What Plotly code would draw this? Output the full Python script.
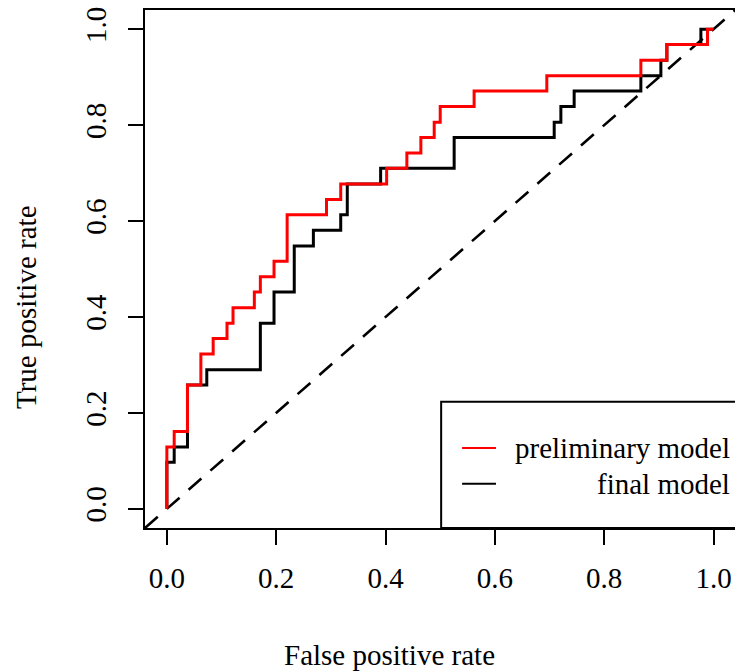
import plotly.graph_objects as go

# ROC curve vertices: run-end false positive rate at each true positive rate level
prelim_fpr = [0.0, 0.0134, 0.0377, 0.0622, 0.0847, 0.110, 0.121, 0.160, 0.171, 0.196,
              0.220, 0.292, 0.318, 0.402, 0.439, 0.4646, 0.489, 0.500, 0.562, 0.695,
              0.867, 0.9146, 0.9889, 1.0]
prelim_tpr = [0.0, 0.129, 0.161, 0.258, 0.323, 0.355, 0.387, 0.419, 0.452, 0.484,
              0.516, 0.613, 0.645, 0.677, 0.710, 0.742, 0.774, 0.806, 0.839, 0.871,
              0.903, 0.935, 0.968, 1.0]

final_fpr = [0.0, 0.0134, 0.0377, 0.073, 0.171, 0.196, 0.233, 0.268, 0.318, 0.330,
             0.391, 0.5255, 0.7085, 0.7207, 0.745, 0.867, 0.9036, 0.9146, 0.9768, 1.0]
final_tpr = [0.0, 0.097, 0.129, 0.258, 0.290, 0.387, 0.452, 0.548, 0.581, 0.613,
             0.677, 0.710, 0.774, 0.806, 0.839, 0.871, 0.903, 0.935, 0.968, 1.0]

diag_x = [-0.04, 1.045]
diag_y = [-0.04, 1.045]

tick_vals = [0.0, 0.2, 0.4, 0.6, 0.8, 1.0]
tick_text = ["0.0", "0.2", "0.4", "0.6", "0.8", "1.0"]

legend_labels = ["preliminary model", "final model"]
legend_colors = ["#ff0000", "#000000"]

FONT = "Liberation Serif, Times New Roman, serif"
FS = 29

# plot area in page pixels (page body margin removed below)
PL, PT, PR, PB = 145, 10, 735, 528
PW, PH = PR - PL, PB - PT

fig = go.Figure()
fig.add_trace(go.Scatter(x=diag_x, y=diag_y, mode="lines",
                         line=dict(color="black", width=2.6, dash="17px,12px"),
                         showlegend=False, hoverinfo="skip"))
fig.add_trace(go.Scatter(x=final_fpr, y=final_tpr, mode="lines", line_shape="vh",
                         line=dict(color="black", width=3), name=legend_labels[1],
                         showlegend=False))
fig.add_trace(go.Scatter(x=prelim_fpr, y=prelim_tpr, mode="lines", line_shape="vh",
                         line=dict(color="#ff0000", width=3), name=legend_labels[0],
                         showlegend=False))

axis_common = dict(showgrid=False, zeroline=False, showline=True, linewidth=2,
                   linecolor="black", ticks="outside", ticklen=15, tickwidth=2,
                   tickcolor="black", tickvals=tick_vals, ticktext=tick_text,
                   automargin=False, ticklabeloverflow="allow",
                   tickfont=dict(family=FONT, size=FS, color="black"))

fig.update_layout(
    width=735, height=671,
    margin=dict(l=PL, r=735 - PR, t=PT, b=671 - PB, pad=0, autoexpand=False),
    paper_bgcolor="white", plot_bgcolor="white",
    xaxis=dict(range=[-0.04, -0.04 + PW / 546.7], mirror=True, ticklabelstandoff=8,
               **axis_common),
    yaxis=dict(range=[-0.04, 1.04], mirror=True, tickangle=-90, ticklabelstandoff=10,
               **axis_common),
    showlegend=False,
)

# legend box (bottom-right, partly outside the figure like the original)
fig.add_shape(type="rect", xref="x", yref="y", x0=0.5017, x1=1.2, y0=-0.04, y1=0.223,
              line=dict(color="black", width=2), fillcolor="white", layer="below")
legend_y = [0.127, 0.052]
for lab, col, ly in zip(legend_labels, legend_colors, legend_y):
    fig.add_shape(type="line", xref="x", yref="y", x0=0.540, x1=0.602, y0=ly, y1=ly,
                  line=dict(color=col, width=2))
    fig.add_annotation(x=1.0335, y=ly, xref="x", yref="y", text=lab, showarrow=False,
                       xanchor="right", yanchor="middle",
                       font=dict(family=FONT, size=FS, color="black"))

fig.add_annotation(x=(389 - PL) / PW, y=(PB - 655) / PH, xref="paper", yref="paper",
                   text="False positive rate", showarrow=False,
                   xanchor="center", yanchor="middle",
                   font=dict(family=FONT, size=FS, color="black"))
fig.add_annotation(x=(26 - PL) / PW, y=(PB - 307) / PH, xref="paper", yref="paper",
                   text="True positive rate", showarrow=False, textangle=-90,
                   xanchor="center", yanchor="middle",
                   font=dict(family=FONT, size=FS, color="black"))

fig.write_html(
    "out.html",
    config={"displayModeBar": False, "staticPlot": True},
    post_script="document.body.style.margin='0';document.body.style.overflow='hidden';",
)
